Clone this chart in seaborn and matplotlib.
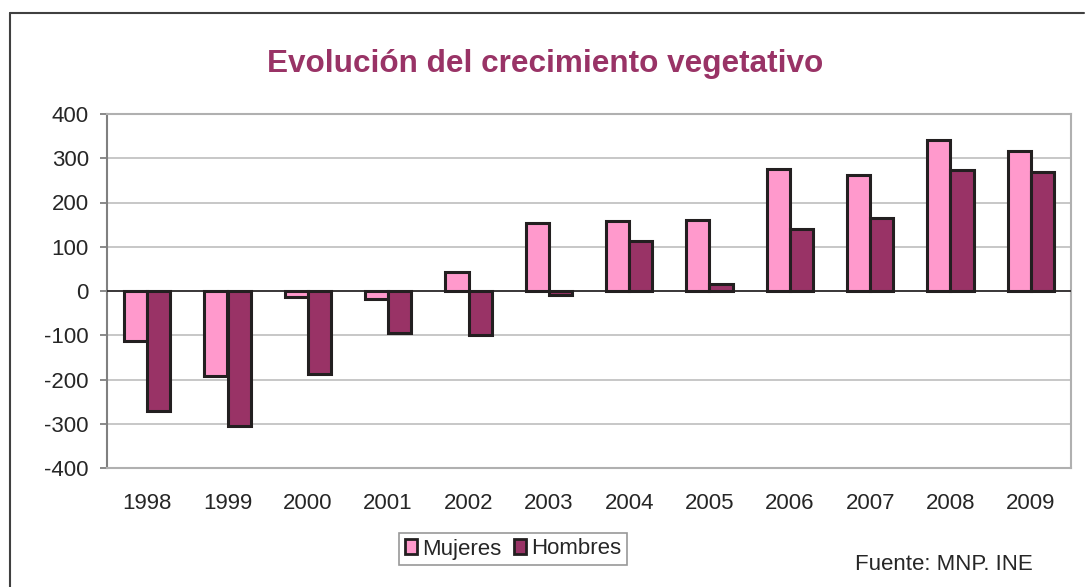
import pandas as pd
import seaborn as sns
import matplotlib.pyplot as plt
from matplotlib.patches import Patch
from matplotlib.lines import Line2D

# values
years = ['1998', '1999', '2000', '2001', '2002', '2003',
         '2004', '2005', '2006', '2007', '2008', '2009']
mujeres = [-113, -193, -13, -18, 42, 153, 158, 160, 276, 263, 342, 317]
hombres = [-272, -305, -187, -96, -100, -9, 114, 16, 141, 164, 273, 269]
series = ['Mujeres', 'Hombres']
colors = ['#FF99CC', '#993366']
y_ticks = list(range(-400, 401, 100))

df = pd.DataFrame({
    'year': years * 2,
    'value': mujeres + hombres,
    'serie': [series[0]] * len(years) + [series[1]] * len(years),
})

sns.set_style('white')
plt.rcParams['font.family'] = ['Liberation Sans', 'DejaVu Sans']

fig = plt.figure(figsize=(10.87, 5.87), dpi=100)
ax = fig.add_axes([107 / 1087, 1 - 468 / 587, (1071 - 107) / 1087, (468 - 114) / 587])

sns.barplot(data=df, x='year', y='value', hue='serie', palette=colors,
            saturation=1, width=0.575, edgecolor='#231F20', linewidth=2.2,
            legend=False, ax=ax, zorder=3)

ax.set_ylim(-400, 400)
ax.set_yticks(y_ticks)
ax.set_yticklabels([str(v) for v in y_ticks])
ax.set_xlim(-0.5, len(years) - 0.5)
ax.set_xlabel('')
ax.set_ylabel('')
ax.yaxis.grid(True, color='#BDBDBD', linewidth=1.2, zorder=0)
ax.set_axisbelow(True)
ax.axhline(0, color='#231F20', linewidth=1.2, zorder=4)

for side in ['top', 'right', 'bottom']:
    ax.spines[side].set_color('#B0B0B0')
    ax.spines[side].set_linewidth(1.5)
ax.spines['left'].set_color('#808080')
ax.spines['left'].set_linewidth(1.5)

ax.tick_params(axis='y', direction='out', length=5, width=1.3, color='#808080',
               pad=8, labelsize=16, left=True)
ax.tick_params(axis='x', length=0, pad=18, labelsize=16)

fig.text(545 / 1087, 1 - 64 / 587, 'Evolución del crecimiento vegetativo',
         ha='center', va='center', fontsize=22.7, fontweight='bold', color='#993366')

handles = [Patch(facecolor=c, edgecolor='#231F20', linewidth=2) for c in colors]
leg = fig.legend(handles, series, loc='center', bbox_to_anchor=(513 / 1087, 1 - 549 / 587),
                 ncol=2, fontsize=16, frameon=True, fancybox=False, handlelength=0.55,
                 handleheight=0.65, handletextpad=0.2, columnspacing=0.6,
                 borderpad=0.25, borderaxespad=0)
leg.get_frame().set_edgecolor('#7F7F7F')
leg.get_frame().set_linewidth(1.2)

fig.text(855 / 1087, 1 - 565 / 587, 'Fuente: MNP. INE', ha='left', va='center', fontsize=16)

# outer chart border (left and top visible in the reference)
fig.add_artist(Line2D([10 / 1087, 10 / 1087], [0, 1 - 13 / 587], color='#404040', linewidth=1.5))
fig.add_artist(Line2D([10 / 1087, 1084 / 1087], [1 - 13 / 587, 1 - 13 / 587], color='#404040', linewidth=1.5))

fig.savefig('out.png', dpi=100)
